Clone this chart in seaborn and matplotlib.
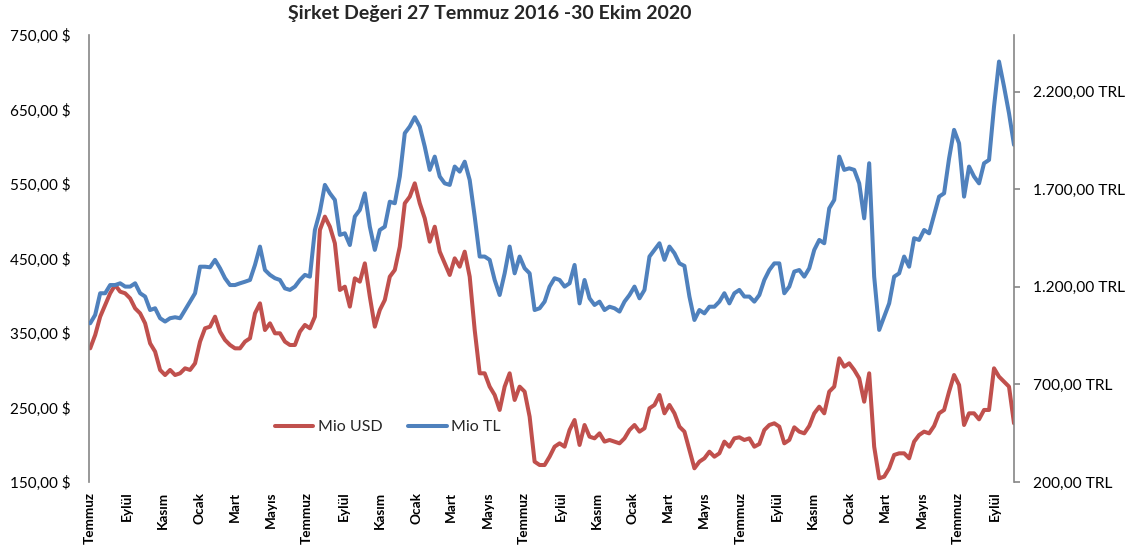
import numpy as np
import pandas as pd
import matplotlib
matplotlib.use("Agg")
import matplotlib.pyplot as plt
import seaborn as sns
from matplotlib.ticker import FuncFormatter, FixedLocator

# ---------------- data ----------------
start_date = "2016-07-27"
end_date = "2020-10-30"

mio_usd = [
    329.4, 347.3, 371.9, 387.6, 403.3, 414.4, 405.5, 403.3, 396.5, 383.1, 376.4, 363.0, 336.1, 325.0, 300.4, 293.6,
    300.4, 293.6, 295.9, 302.6, 300.4, 309.3, 338.4, 356.3, 358.5, 371.9, 351.8, 340.6, 333.9, 329.4, 329.4, 338.4,
    342.9, 376.4, 389.8, 354.0, 363.0, 349.6, 349.6, 338.4, 333.9, 333.9, 351.8, 360.8, 356.3, 371.9, 488.3, 506.2,
    492.7, 470.4, 407.7, 412.2, 385.4, 423.4, 418.9, 443.5, 398.8, 358.5, 380.9, 394.3, 425.6, 434.6, 465.9, 524.1,
    533.0, 550.9, 524.1, 503.9, 472.6, 492.7, 459.2, 443.5, 427.9, 450.2, 439.0, 459.2, 425.6, 354.0, 295.9, 295.9,
    278.0, 266.8, 246.7, 278.0, 295.9, 260.1, 278.0, 271.3, 237.7, 177.3, 172.8, 172.8, 184.0, 197.4, 201.9, 197.4,
    219.8, 233.2, 199.7, 226.5, 210.9, 208.6, 215.3, 204.2, 206.4, 204.2, 201.9, 208.6, 219.8, 226.5, 217.6, 222.1,
    248.9, 253.4, 266.8, 242.2, 253.4, 242.2, 224.3, 217.6, 193.0, 168.4, 177.3, 181.8, 190.7, 184.0, 188.5, 204.2,
    197.4, 208.6, 210.0, 206.4, 208.6, 197.4, 201.0, 219.8, 226.5, 228.8, 224.3, 201.9, 206.4, 223.4, 217.6, 215.3,
    225.2, 242.2, 251.1, 242.2, 271.3, 278.0, 316.0, 304.8, 309.3, 300.4, 289.2, 257.8, 295.9, 197.4, 154.9, 157.2,
    168.4, 186.3, 188.5, 188.5, 181.8, 204.2, 213.1, 217.6, 215.3, 225.2, 242.2, 246.7, 271.3, 293.6, 280.2, 226.5,
    242.2, 242.2, 234.1, 246.7, 246.7, 302.6, 291.4, 284.7, 278.0, 228.8,
]

mio_tl = [
    1013, 1056, 1167, 1167, 1209, 1209, 1218, 1201, 1201, 1218, 1167, 1150, 1081, 1090, 1039, 1022,
    1039, 1044, 1039, 1081, 1124, 1167, 1303, 1303, 1300, 1338, 1295, 1244, 1209, 1209, 1218, 1226,
    1235, 1312, 1406, 1286, 1261, 1244, 1235, 1192, 1184, 1201, 1235, 1261, 1252, 1491, 1585, 1722,
    1679, 1645, 1466, 1474, 1414, 1560, 1594, 1679, 1508, 1389, 1491, 1508, 1636, 1628, 1765, 1987,
    2021, 2069, 2021, 1918, 1799, 1867, 1765, 1730, 1722, 1816, 1790, 1841, 1747, 1560, 1355, 1355,
    1338, 1235, 1158, 1269, 1406, 1269, 1355, 1295, 1269, 1081, 1090, 1124, 1201, 1244, 1235, 1201,
    1218, 1312, 1115, 1235, 1141, 1107, 1124, 1081, 1098, 1090, 1073, 1124, 1158, 1201, 1141, 1184,
    1355, 1389, 1423, 1338, 1406, 1372, 1320, 1307, 1150, 1030, 1081, 1064, 1098, 1098, 1124, 1167,
    1115, 1167, 1184, 1150, 1150, 1124, 1158, 1235, 1286, 1320, 1320, 1167, 1201, 1278, 1286, 1252,
    1295, 1389, 1440, 1423, 1602, 1645, 1867, 1799, 1807, 1799, 1730, 1551, 1833, 1252, 979, 1047,
    1115, 1252, 1269, 1355, 1303, 1449, 1440, 1491, 1474, 1568, 1662, 1679, 1858, 2004, 1935, 1662,
    1816, 1765, 1730, 1833, 1850, 2123, 2354, 2226, 2089, 1927,
]

month_labels = ["Temmuz", "Eylül", "Kasım", "Ocak", "Mart", "Mayıs",
                "Temmuz", "Eylül", "Kasım", "Ocak", "Mart", "Mayıs",
                "Temmuz", "Eylül", "Kasım", "Ocak", "Mart", "Mayıs",
                "Temmuz", "Eylül", "Kasım", "Ocak", "Mart", "Mayıs",
                "Temmuz", "Eylül"]

usd_ticks = [150, 250, 350, 450, 550, 650, 750]
tl_ticks = [200, 700, 1200, 1700, 2200]

title_text = "Şirket Değeri 27 Temmuz 2016 -30 Ekim 2020"
series_names = ["Mio USD", "Mio TL"]

# ---------------- build frame ----------------
dates = pd.date_range(start_date, end_date, periods=len(mio_usd))
df = pd.DataFrame({"Tarih": dates, "Mio USD": mio_usd, "Mio TL": mio_tl})
tick_dates = pd.date_range(start_date, periods=len(month_labels), freq=pd.DateOffset(months=2))

# ---------------- style ----------------
sns.set_theme(style="white")
plt.rcParams["font.family"] = ["Lato", "DejaVu Sans"]

RED = "#C0504D"
BLUE = "#4F81BD"
GRAY = "#868686"

fig = plt.figure(figsize=(11.34, 5.47), dpi=100)
ax = fig.add_axes([89 / 1134, 1 - 482 / 547, (1014 - 89) / 1134, (482 - 35) / 547])
ax2 = ax.twinx()

sns.lineplot(data=df, x="Tarih", y="Mio USD", ax=ax, color=RED, lw=2.9, label="Mio USD", legend=False)
sns.lineplot(data=df, x="Tarih", y="Mio TL", ax=ax2, color=BLUE, lw=2.9, label="Mio TL", legend=False)

ax.set_xlim(dates[0] - pd.Timedelta(days=2), dates[-1])
ax.set_ylim(usd_ticks[0], usd_ticks[-1])
ax2.set_ylim(200, 2490)


def tr_fmt(v):
    s = f"{v:,.2f}"
    return s.replace(",", "X").replace(".", ",").replace("X", ".")


ax.yaxis.set_major_locator(FixedLocator(usd_ticks))
ax.yaxis.set_major_formatter(FuncFormatter(lambda v, p: tr_fmt(v) + " $"))
ax2.yaxis.set_major_locator(FixedLocator(tl_ticks))
ax2.yaxis.set_major_formatter(FuncFormatter(lambda v, p: tr_fmt(v) + " TRL"))

ax.set_xticks(tick_dates)
ax.set_xticklabels(month_labels, rotation=90, fontweight="bold", fontsize=9.8, va="top", ha="center")

for a in (ax, ax2):
    a.set_xlabel("")
    a.set_ylabel("")
    a.grid(False)
    for side in ("top", "bottom"):
        a.spines[side].set_visible(False)

ax.spines["right"].set_visible(False)
ax.spines["left"].set_color(GRAY)
ax.spines["left"].set_linewidth(1.2)
ax2.spines["left"].set_visible(False)
ax2.spines["right"].set_color(GRAY)
ax2.spines["right"].set_linewidth(1.2)

ax.tick_params(axis="y", length=0, pad=13, labelsize=11, colors="black")
ax.tick_params(axis="x", length=0, pad=7, colors="black")
ax2.tick_params(axis="y", length=4.5, width=1.2, color=GRAY, direction="out", pad=9.5,
                labelsize=11.2, labelcolor="black")

fig.text(490 / 1134, 1 - 14 / 547, title_text, ha="center", va="center",
         fontsize=14, fontweight="bold")

h1, l1 = ax.get_legend_handles_labels()
h2, l2 = ax2.get_legend_handles_labels()
fig.legend(h1 + h2, l1 + l2, loc="center", bbox_to_anchor=(388 / 1134, 1 - 427 / 547),
           ncol=2, frameon=False, fontsize=11.5, handlelength=2.4, columnspacing=1.6,
           handletextpad=0.3)

fig.savefig("out.png", dpi=100)
